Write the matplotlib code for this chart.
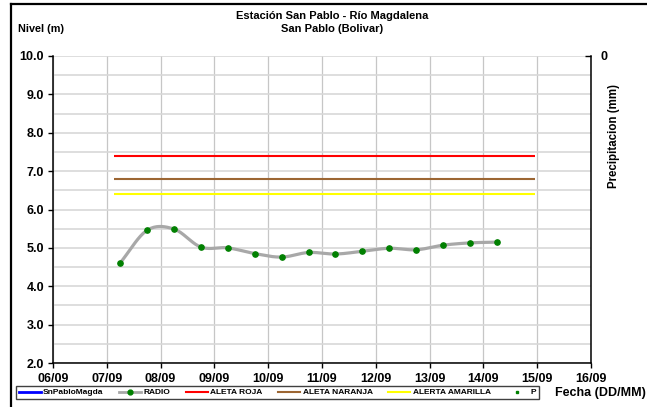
import matplotlib
matplotlib.use("Agg")
import matplotlib.pyplot as plt
import matplotlib.dates as mdates
from matplotlib.lines import Line2D
import numpy as np
from datetime import datetime

# ---------------- data ----------------
radio_times = ["2020-09-07 06:00", "2020-09-07 18:00", "2020-09-08 06:00", "2020-09-08 18:00",
               "2020-09-09 06:00", "2020-09-09 18:00", "2020-09-10 06:00", "2020-09-10 18:00",
               "2020-09-11 06:00", "2020-09-11 18:00", "2020-09-12 06:00", "2020-09-12 18:00",
               "2020-09-13 06:00", "2020-09-13 18:00", "2020-09-14 06:00"]
radio_levels = [4.61, 5.46, 5.49, 5.02, 5.00, 4.85, 4.76, 4.88, 4.84, 4.91, 4.99, 4.95, 5.07, 5.13, 5.15]

alert_times = ["2020-09-07 03:00", "2020-09-14 23:00"]
alerta_roja = [7.4, 7.4]
alerta_naranja = [6.8, 6.8]
alerta_amarilla = [6.4, 6.4]

x_start = "2020-09-06 00:00"
x_end = "2020-09-16 00:00"
y_min, y_max = 2.0, 10.0

title_lines = ["Estación San Pablo - Río Magdalena", "San Pablo (Bolivar)"]
legend_labels = ["SnPabloMagda", "RADIO", "ALETA ROJA", "ALETA NARANJA", "ALERTA AMARILLA", "P"]

# ---------------- helpers ----------------
def to_num(strs):
    return mdates.date2num([datetime.strptime(s, "%Y-%m-%d %H:%M") for s in strs])

def smooth(x, y, n=20):
    """Catmull-Rom style smoothing like Excel's smoothed line."""
    x = np.asarray(x, float); y = np.asarray(y, float)
    N = len(x)
    mx = np.zeros(N); my = np.zeros(N)
    for i in range(N):
        i0 = max(i - 1, 0); i1 = min(i + 1, N - 1)
        f = 0.5 if (i0 != i and i1 != i) else 1.0
        mx[i] = (x[i1] - x[i0]) * f
        my[i] = (y[i1] - y[i0]) * f
    xs, ys = [], []
    t = np.linspace(0, 1, n, endpoint=False)
    h00 = 2*t**3 - 3*t**2 + 1; h10 = t**3 - 2*t**2 + t
    h01 = -2*t**3 + 3*t**2; h11 = t**3 - t**2
    for i in range(N - 1):
        xs.append(h00*x[i] + h10*mx[i] + h01*x[i+1] + h11*mx[i+1])
        ys.append(h00*y[i] + h10*my[i] + h01*y[i+1] + h11*my[i+1])
    xs.append([x[-1]]); ys.append([y[-1]])
    return np.concatenate(xs), np.concatenate(ys)

plt.rcParams['font.family'] = ['Liberation Sans', 'DejaVu Sans']
plt.rcParams['font.weight'] = 'bold'

W, H = 647, 407
fig = plt.figure(figsize=(W/100, H/100), dpi=100)
L, R, T, B = 53, 591, 56, 363
ax = fig.add_axes([L/W, 1 - B/H, (R-L)/W, (B-T)/H])

xr = to_num(radio_times)
xa = to_num(alert_times)
x0, x1 = to_num([x_start, x_end])

# grid
ax.set_xlim(x0, x1)
ax.set_ylim(y_min, y_max)
ax.xaxis.set_major_locator(mdates.DayLocator())
ax.xaxis.set_major_formatter(mdates.DateFormatter('%d/%m'))
ax.set_yticks(np.arange(2, 10.01, 1.0))
ax.set_yticks(np.arange(2.5, 10, 1.0), minor=True)
ax.yaxis.set_major_formatter(matplotlib.ticker.FormatStrFormatter('%.1f'))
ax.grid(axis='x', which='major', color='#c6c6c6', lw=0.9)
ax.grid(axis='y', which='both', color='#d8d8d8', lw=1.2)
ax.set_axisbelow(True)
ax.tick_params(axis='y', which='minor', length=0)
ax.tick_params(axis='both', which='major', direction='out', length=3.5, width=1,
               labelsize=9, color='black')
ax.tick_params(axis='x', pad=4)
ax.tick_params(axis='y', pad=3)
for lab in ax.get_xticklabels() + ax.get_yticklabels():
    lab.set_fontweight('bold')
ax.spines['top'].set_visible(False)
ax.spines['right'].set_visible(False)
ax.spines['left'].set_linewidth(1.1)
ax.spines['bottom'].set_linewidth(1.1)

# alert lines
ax.plot(xa, alerta_roja, color='#ff0000', lw=1.5, solid_capstyle='butt')
ax.plot(xa, alerta_naranja, color='#9c6633', lw=1.5, solid_capstyle='butt')
ax.plot(xa, alerta_amarilla, color='#ffff00', lw=1.5, solid_capstyle='butt')

# radio smooth line + markers
xs, ys = smooth(xr, radio_levels)
ax.plot(xs, ys, color='#a8a8a8', lw=2.3, solid_capstyle='round')
ax.plot(xr, radio_levels, ls='none', marker='o', ms=3.8, color='#008000', mec='#008000')

# secondary axis
ax2 = ax.twinx()
ax2.set_ylim(100, 0)
ax2.set_yticks([0])
ax2.yaxis.set_major_formatter(matplotlib.ticker.FormatStrFormatter('%d'))
ax2.tick_params(axis='y', direction='in', length=4, width=1, labelsize=9, pad=7)
for lab in ax2.get_yticklabels():
    lab.set_fontweight('bold')
for s in ['top', 'left', 'bottom']:
    ax2.spines[s].set_visible(False)
ax2.spines['right'].set_linewidth(1.1)

# texts
fig.text(332/W, 1 - 16/H, title_lines[0], ha='center', va='center', fontsize=8, fontweight='bold')
fig.text(332/W, 1 - 29/H, title_lines[1], ha='center', va='center', fontsize=8, fontweight='bold')
fig.text(18/W, 1 - 29/H, "Nivel (m)", ha='left', va='center', fontsize=7.8, fontweight='bold')
fig.text(614/W, 1 - 136/H, "Precipitacion (mm)", ha='center', va='center', rotation=90,
         fontsize=8.3, fontweight='bold')
fig.text(646/W, 1 - 393/H, "Fecha (DD/MM)", ha='right', va='center', fontsize=9, fontweight='bold')

# legend
handles = [
    Line2D([], [], color='#0000ff', lw=2),
    Line2D([], [], color='#a8a8a8', lw=2, marker='o', ms=3.5, mfc='#008000', mec='#008000'),
    Line2D([], [], color='#ff0000', lw=1.5),
    Line2D([], [], color='#9c6633', lw=1.5),
    Line2D([], [], color='#ffff00', lw=1.5),
    Line2D([], [], ls='none', marker='s', ms=1.8, color='#008000'),
]
leg = fig.legend(handles, legend_labels, ncol=6, loc='center left',
                 bbox_to_anchor=(16/W, 1 - 392.5/H), prop={'size': 6, 'weight': 'bold'},
                 frameon=True, fancybox=False, edgecolor='#404040', framealpha=1,
                 handlelength=2.6, handletextpad=0.3, columnspacing=1.9,
                 borderpad=0.35, borderaxespad=0)
leg.get_frame().set_linewidth(1.0)

# figure border
fig.add_artist(Line2D([11/W, 11/W], [0, 1 - 4/H], color='black', lw=1.6, transform=fig.transFigure))
fig.add_artist(Line2D([11/W, 1], [1 - 4/H, 1 - 4/H], color='black', lw=1.6, transform=fig.transFigure))

fig.savefig("out.png", dpi=100)
